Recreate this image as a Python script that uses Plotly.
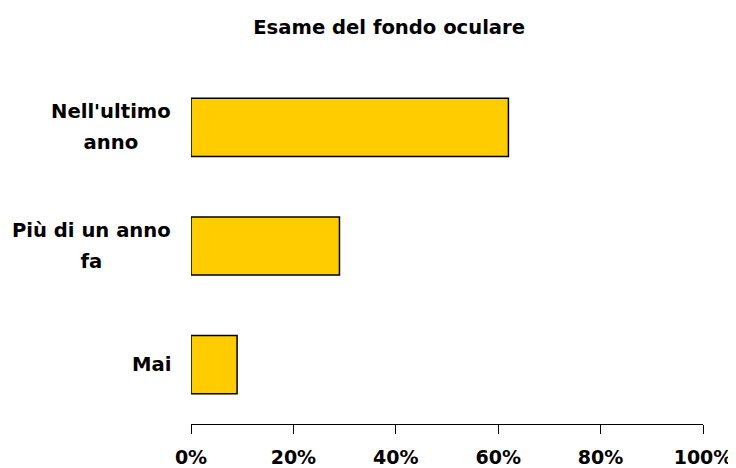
import plotly.graph_objects as go

categories = ["Nell'ultimo<br>anno", "Più di un anno<br>fa", "Mai"]
values = [62, 29, 9]
tick_vals = [0, 20, 40, 60, 80, 100]
tick_text = ["0%", "20%", "40%", "60%", "80%", "100%"]

font_family = "DejaVu Sans, Verdana, sans-serif"
label_size = 19.6

# the page body adds an 8px offset, so the figure is 8px smaller
W, H, OFF = 736 - 8, 468 - 8, 8


def bold(s):
    return "<b>" + s + "</b>"


fig = go.Figure()
fig.add_trace(go.Bar(
    x=values,
    y=categories,
    orientation="h",
    width=0.49,
    marker=dict(color="#FFCC00", line=dict(color="black", width=1.5)),
    hoverinfo="x+y",
))

# centred multi-line category labels; the larger base font gives wider line spacing
for cat in categories:
    lines = cat.split("<br>")
    txt = "<br>".join(
        "<span style='font-size:%spx'>%s</span>" % (label_size, bold(l)) for l in lines
    )
    fig.add_annotation(
        x=-0.036, xref="paper", y=cat, yref="y",
        text=txt, showarrow=False,
        xanchor="right", yanchor="middle", align="center",
        font=dict(family=font_family, size=24, color="black"),
    )

fig.update_layout(
    width=W, height=H,
    margin=dict(l=191 - OFF, r=33, t=68 - OFF, b=44, autoexpand=False),
    paper_bgcolor="white", plot_bgcolor="white",
    showlegend=False,
    title=dict(
        text=bold("Esame del fondo oculare"),
        x=0.387, xref="paper", xanchor="center",
        y=1 - (27 - OFF) / H, yref="container", yanchor="middle",
        font=dict(family=font_family, size=19.6, color="black"),
    ),
    xaxis=dict(
        range=[0, 100], tickvals=tick_vals,
        ticktext=[bold(t) for t in tick_text],
        showgrid=False, zeroline=False,
        showline=True, linecolor="black", linewidth=1,
        ticks="outside", ticklen=9, tickcolor="black", tickwidth=1,
        ticklabelstandoff=7,
        tickfont=dict(family=font_family, size=19, color="black"),
    ),
    yaxis=dict(
        autorange="reversed", showticklabels=False,
        showgrid=False, zeroline=False, showline=False,
    ),
)

fig.write_html("out.html")
